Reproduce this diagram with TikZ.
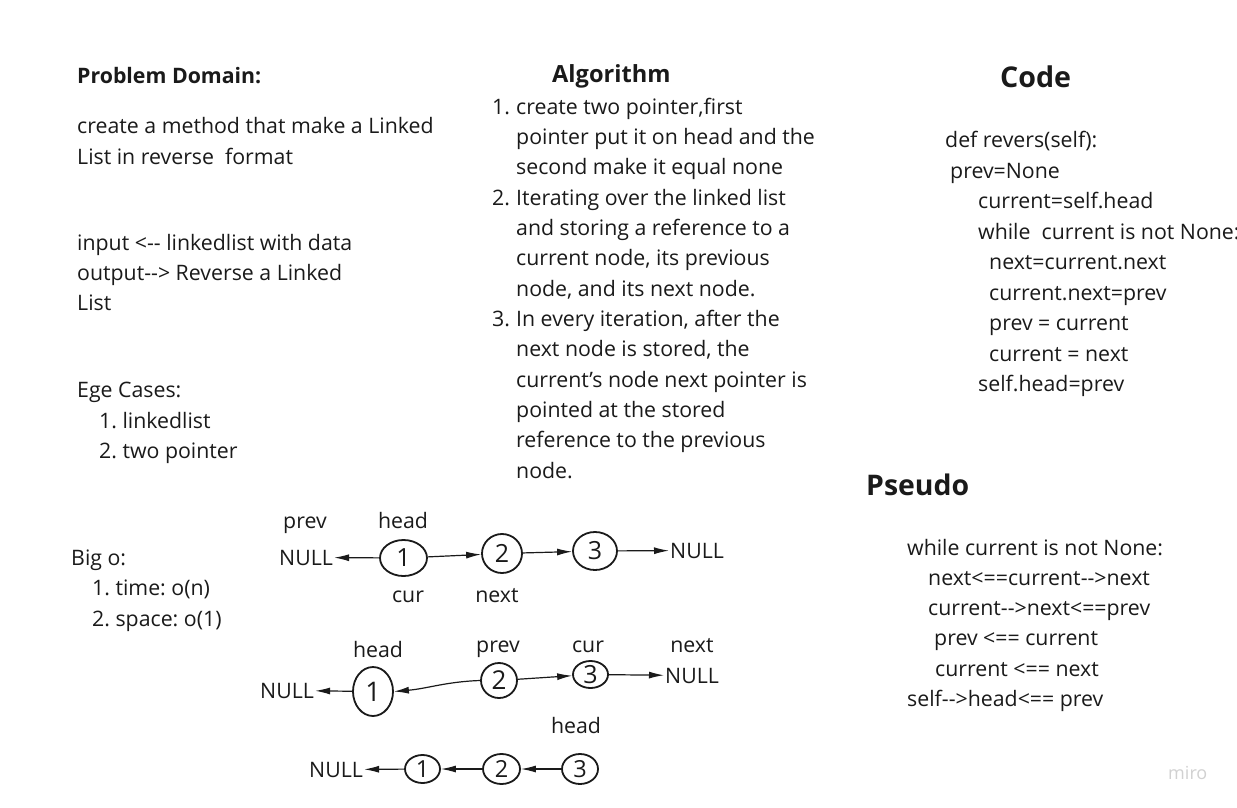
\documentclass[tikz,border=0pt]{standalone}
\usepackage{fontspec}
\setmainfont{Open Sans}
\usetikzlibrary{arrows.meta,shapes.geometric}
\definecolor{ink}{HTML}{1A1A1A}
\frenchspacing
\tikzset{
  txt/.style={anchor=base west, inner sep=0pt, text=ink, font=\fontsize{21.3}{24}\selectfont\frenchspacing},
  hdr/.style={anchor=base west, inner sep=0pt, text=ink, font=\fontsize{#1}{24}\selectfont\bfseries},
  lbl/.style={anchor=base, inner sep=0pt, text=ink, font=\fontsize{21.3}{24}\selectfont},
  nul/.style={anchor=base west, inner sep=1pt, text=ink, font=\fontsize{21.3}{24}\selectfont},
  ell/.style={ellipse, draw=ink, line width=1.8pt, inner sep=0pt, text=ink, font=\fontsize{#1}{26}\selectfont},
  arr/.style={draw=ink, line width=1.2pt, -{Latex[length=15pt,width=7pt]}},
}
\begin{document}
\begin{tikzpicture}[x=1pt,y=-1pt]
\useasboundingbox[fill=white] (0,0) rectangle (1237,808);

% Problem domain column
\node[hdr=21.3] (pdh) at (77,84) {Problem Domain:};
\node[txt] (pd1) at (77,133) {create a method that make a Linked};
\node[txt] (pd2) at (77,164) {List in reverse\ \ format};
\node[txt] (pd3) at (77,250) {input <-{}- linkedlist with data};
\node[txt] (pd4) at (77,280) {output-{}-> Reverse a Linked};
\node[txt] (pd5) at (77,310) {List};
\node[txt] (ec0) at (77,397) {Ege Cases:};
\node[txt] (ec1) at (99,428) {1. linkedlist};
\node[txt] (ec2) at (99,458) {2. two pointer};
\node[txt] (bo0) at (71,565) {Big o:};
\node[txt] (bo1) at (92,595) {1. time: o(n)};
\node[txt] (bo2) at (92,626) {2. space: o(1)};

% Algorithm column
\node[hdr=23.6] (alh) at (552,82) {Algorithm};
\node[txt] (al1n) at (492,114) {1.};
\node[txt] (al1) at (516,114) {create two pointer,first};
\node[txt] (al2) at (516,144) {pointer put it on head and the};
\node[txt] (al3) at (516,174) {second make it equal none};
\node[txt] (al4n) at (492,205) {2.};
\node[txt] (al4) at (516,205) {Iterating over the linked list};
\node[txt] (al5) at (516,235) {and storing a reference to a};
\node[txt] (al6) at (516,265) {current node, its previous};
\node[txt] (al7) at (516,296) {node, and its next node.};
\node[txt] (al8n) at (492,326) {3.};
\node[txt] (al8) at (516,326) {In every iteration, after the};
\node[txt] (al9) at (516,356) {next node is stored, the};
\node[txt] (al10) at (516,387) {current’s node next pointer is};
\node[txt] (al11) at (516,417) {pointed at the stored};
\node[txt] (al12) at (516,447) {reference to the previous};
\node[txt] (al13) at (516,478) {node.};

% Code column
\node[hdr=28.6] (cdh) at (1000,88) {Code};
\node[txt] (cd1) at (945,147) {def revers(self):};
\node[txt] (cd2) at (950,178) {prev=None};
\node[txt] (cd3) at (978,208) {current=self.head};
\node[txt] (cd4) at (978,239) {while\ \ current is not None:};
\node[txt] (cd5) at (989,269) {next=current.next};
\node[txt] (cd6) at (989,300) {current.next=prev};
\node[txt] (cd7) at (989,330) {prev = current};
\node[txt] (cd8) at (989,361) {current = next};
\node[txt] (cd9) at (978,391) {self.head=prev};

% Pseudo column
\node[hdr=28.4] (psh) at (866,495) {Pseudo};
\node[txt] (ps1) at (907,555) {while current is not None:};
\node[txt] (ps2) at (928,585) {next<==current-{}->next};
\node[txt] (ps3) at (928,615) {current-{}->next<==prev};
\node[txt] (ps4) at (934,645) {prev <== current};
\node[txt] (ps5) at (935,676) {current <== next};
\node[txt] (ps6) at (907,706) {self-{}->head<== prev};

% Diagram 1
\node[lbl] (d1prev) at (305,528) {prev};
\node[lbl] (d1head) at (403,528) {head};
\node[lbl] (d1cur) at (408,602) {cur};
\node[lbl] (d1next) at (497,602) {next};
\node[nul] (d1nl) at (278,565) {NULL};
\node[ell=25, minimum width=47pt, minimum height=36pt] (d1a) at (403.5,558) {1};
\node[ell=25, minimum width=40pt, minimum height=39pt] (d1b) at (502,553.5) {2};
\node[ell=25, minimum width=44pt, minimum height=38pt] (d1c) at (595,551) {3};
\node[nul] (d1nr) at (669,558) {NULL};
\draw[arr] (d1a) -- (d1nl);
\draw[arr] (d1a) -- (d1b);
\draw[arr] (d1b) -- (d1c);
\draw[arr] (d1c) -- (d1nr);

% Diagram 2
\node[lbl] (d2head) at (378,657) {head};
\node[lbl] (d2prev) at (498,652) {prev};
\node[lbl] (d2cur) at (588,652) {cur};
\node[lbl] (d2next) at (692,652) {next};
\node[nul] (d2nl) at (259,698) {NULL};
\node[ell=27, minimum width=40pt, minimum height=49pt] (d2a) at (373,691.5) {1};
\node[ell=26, minimum width=36pt, minimum height=35pt] (d2b) at (499,680.5) {2};
\node[ell=25, minimum width=35pt, minimum height=27pt] (d2c) at (590.5,674.5) {3};
\node[nul] (d2nr) at (664,683) {NULL};
\draw[arr] (d2a) -- (d2nl);
\draw[arr] (d2b.west) to[out=182,in=5] (d2a.east);
\draw[arr] (d2b) -- (d2c);
\draw[arr] (d2c) -- (d2nr);

% Diagram 3
\node[lbl] (d3head) at (576,733) {head};
\node[nul] (d3nl) at (308,777) {NULL};
\node[ell=23.5, minimum width=35pt, minimum height=28pt] (d3a) at (422.5,769) {1};
\node[ell=23.5, minimum width=37pt, minimum height=30pt] (d3b) at (501.5,769) {2};
\node[ell=23.5, minimum width=36pt, minimum height=30pt] (d3c) at (580,769) {3};
\draw[arr] (d3a) -- (d3nl);
\draw[arr] (d3b) -- (d3a);
\draw[arr] (d3c) -- (d3b);

% watermark
\node[anchor=base west, inner sep=0pt, text=black!18, font=\fontsize{18}{20}\selectfont] (miro) at (1168,779) {miro};
\end{tikzpicture}
\end{document}
